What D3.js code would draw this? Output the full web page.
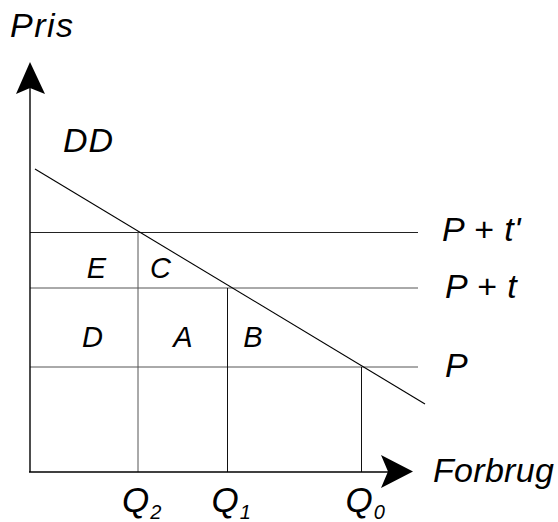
<!DOCTYPE html>
<html><head><meta charset="utf-8">
<script src="https://cdn.jsdelivr.net/npm/d3@7"></script>
<style>body{margin:0;background:#fff}svg{display:block}text{font-family:"Liberation Sans",Arial,Helvetica,sans-serif;font-style:italic;fill:#000}</style>
</head><body>
<script>
// Quantities (x) and prices (y) in chart units
const quantityNames = ["Q2", "Q1", "Q0"];
const quantityValues = [27, 49.4, 82.9];
const priceNames = ["P + t'", "P + t", "P"];
const priceValues = [60.1, 46, 26.25];
const priceForQuantity = [60.1, 46, 26.25]; // vertical drop-lines start heights
const demandX = [1.25, 98.75];
const demandY = [75.75, 17];
const areaLabels = ["E", "C", "D", "A", "B"];
const areaX = [14.2, 30, 13, 35.8, 53.3];
const areaY = [48.5, 48.5, 31.2, 31.2, 31.2];
const lineEnd = 97;
const axisEnd = [95.75, 102.5];

const W = 558, H = 522;
const x = d3.scaleLinear().domain([0, 100]).range([30, 430]);
const y = d3.scaleLinear().domain([0, 100]).range([472, 72]);

const svg = d3.select("body").append("svg").attr("width", W).attr("height", H);

// horizontal price lines
const hCol = ["#222", "#555", "#555"];
const hOff = [0.5, 0, 0];
priceValues.forEach((p, i) => {
  const yy = Math.round(y(p)) + hOff[i];
  svg.append("line").attr("x1", x(0)).attr("x2", x(lineEnd)).attr("y1", yy).attr("y2", yy)
    .attr("stroke", hCol[i]).attr("stroke-width", 1);
});

// vertical quantity lines
const vCol = ["#555", "#111", "#111"];
const vOff = [0, 0.5, 0.5];
quantityValues.forEach((q, i) => {
  const xx = Math.floor(x(q)) + vOff[i];
  svg.append("line").attr("x1", xx).attr("x2", xx).attr("y1", y(priceForQuantity[i])).attr("y2", y(0))
    .attr("stroke", vCol[i]).attr("stroke-width", 1);
});

// demand line
svg.append("line").attr("x1", x(demandX[0])).attr("y1", y(demandY[0]))
  .attr("x2", x(demandX[1])).attr("y2", y(demandY[1]))
  .attr("stroke", "#000").attr("stroke-width", 1.1);

// axes
svg.append("line").attr("x1", x(0)).attr("x2", x(0)).attr("y1", y(0)).attr("y2", y(axisEnd[1]) + 10)
  .attr("stroke", "#000").attr("stroke-width", 1.4);
svg.append("line").attr("x1", x(0) - 1).attr("x2", x(axisEnd[0]) - 10).attr("y1", y(0)).attr("y2", y(0))
  .attr("stroke", "#000").attr("stroke-width", 1.6);

// arrowheads
const tx = x(0), ty = y(axisEnd[1]);
svg.append("path").attr("d", `M${tx},${ty} L${tx+15},${ty+32} L${tx},${ty+26} L${tx-14},${ty+32} Z`).attr("fill", "#000");
const hx = x(axisEnd[0]), hy = y(0) - 0.5;
svg.append("path").attr("d", `M${hx},${hy} L${hx-32},${hy-16.5} L${hx-25},${hy} L${hx-32},${hy+16.5} Z`).attr("fill", "#000");

// axis titles
svg.append("text").attr("x", 10).attr("y", 37).attr("font-size", 34).attr("letter-spacing", 1.5).text("Pris");
svg.append("text").attr("x", 433).attr("y", 482).attr("font-size", 34).attr("letter-spacing", 0.3).text("Forbrug");
svg.append("text").attr("x", 63).attr("y", 152).attr("font-size", 34).attr("letter-spacing", 1).text("DD");

// price labels
const plX = [442, 445, 445];
const plDy = [9, 10, 10];
priceNames.forEach((n, i) => {
  svg.append("text").attr("x", plX[i]).attr("y", y(priceValues[i]) + plDy[i]).attr("font-size", 34)
    .attr("letter-spacing", 0.5).text(n);
});

// quantity labels with subscripts
quantityNames.forEach((n, i) => {
  const t = svg.append("text").attr("x", x(quantityValues[i]) - 16).attr("y", 512).attr("font-size", 35);
  t.append("tspan").text(n[0]);
  t.append("tspan").attr("font-size", 20).attr("dy", 7).attr("dx", 1).text(n.slice(1));
});

// area labels
areaLabels.forEach((l, i) => {
  svg.append("text").attr("x", x(areaX[i])).attr("y", y(areaY[i])).attr("font-size", 29).text(l);
});
</script>
</body></html>
